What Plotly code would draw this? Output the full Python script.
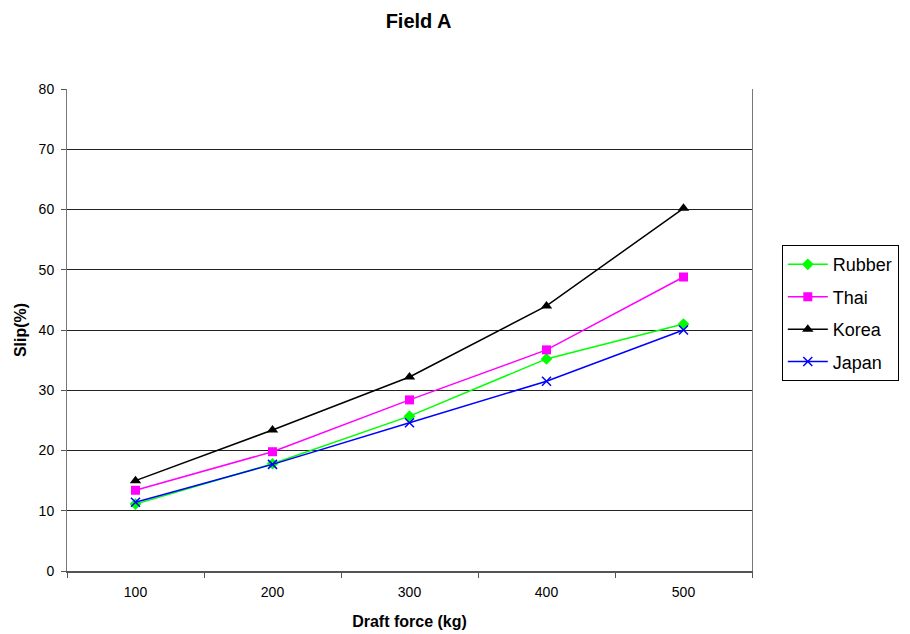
import plotly.graph_objects as go

# Draft force categories (kg)
draft_force = ["100", "200", "300", "400", "500"]

# Wheel slip (%) for each lug type
rubber = [11.1, 17.8, 25.7, 35.2, 41.0]
thai = [13.4, 19.8, 28.4, 36.7, 48.8]
korea = [15.0, 23.4, 32.2, 44.0, 60.2]
japan = [11.4, 17.7, 24.6, 31.5, 40.0]

y_ticks = [0, 10, 20, 30, 40, 50, 60, 70, 80]

FONT = "Liberation Sans Narrow, Arial Narrow, Liberation Sans, Arial, sans-serif"

series = [
    ("Rubber", rubber, "#00ff00", dict(symbol="diamond", size=9)),
    ("Thai", thai, "#ff00ff", dict(symbol="square", size=9)),
    ("Korea", korea, "#000000", dict(symbol="triangle-up", size=10)),
    ("Japan", japan, "#0000ff", dict(symbol="x-thin-open", size=9,
                                        line=dict(width=1.5, color="#0000ff"))),
]

fig = go.Figure()
for name, vals, color, marker in series:
    m = dict(color=color, **marker)
    fig.add_trace(go.Scatter(
        x=draft_force, y=vals, name=name, legendgroup=name, mode="lines+markers",
        line=dict(color=color, width=1.5), marker=m,
    ))

fig.update_layout(
    width=910, height=634,
    margin=dict(l=67, r=157, t=89, b=63),
    paper_bgcolor="white", plot_bgcolor="white",
    font=dict(family=FONT, size=14, color="black"),
    title=dict(text="<b>Field A</b>", x=0.46, xanchor="center", y=0.967, yanchor="middle",
               font=dict(family=FONT, size=20, color="black")),
    showlegend=True,
    legend=dict(x=1.042, xanchor="left", y=0.676, yanchor="top",
                bordercolor="black", borderwidth=1, bgcolor="white",
                font=dict(family=FONT, size=18, color="black"),
                itemwidth=40, tracegroupgap=6),
)

fig.update_xaxes(
    type="category", range=[-0.5, 4.5], automargin=False,
    showgrid=False, showline=True, linecolor="#555555", linewidth=2,
    ticks="outside", tickson="boundaries", ticklen=5, tickcolor="#555555",
    tickfont=dict(size=14), mirror=False, ticklabelstandoff=7,
    title=dict(text="<b>Draft force (kg)</b>", font=dict(size=16), standoff=17),
)
fig.update_yaxes(
    range=[0, 80], tickvals=y_ticks, automargin=False,
    showgrid=True, gridcolor="#222222", gridwidth=1,
    showline=True, linecolor="#777777", linewidth=1, mirror=True,
    ticks="outside", ticklen=5, tickcolor="#555555",
    tickfont=dict(size=14), zeroline=False, ticklabelstandoff=4,
    title=dict(text="<b>Slip(%)</b>", font=dict(size=16), standoff=8),
)

fig.write_html("out.html")
